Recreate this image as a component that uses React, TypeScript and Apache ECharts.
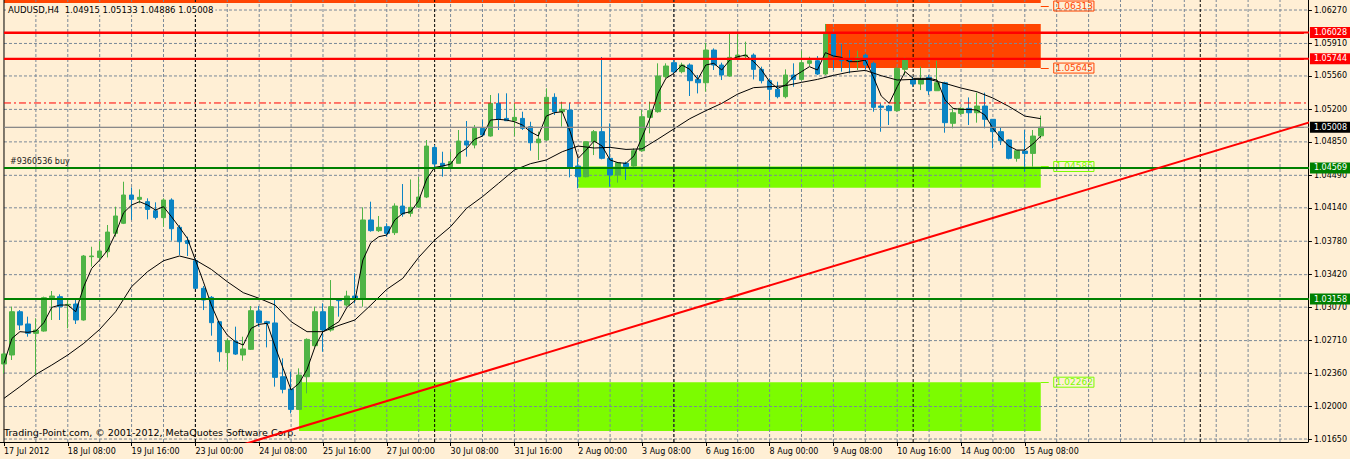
import React, { useEffect, useRef } from 'react';
import * as echarts from 'echarts';

// ---------- data ----------
const timeLabels = [
  '17 Jul 2012', '18 Jul 08:00', '19 Jul 16:00', '23 Jul 00:00', '24 Jul 08:00', '25 Jul 16:00',
  '27 Jul 00:00', '30 Jul 08:00', '31 Jul 16:00', '2 Aug 00:00', '3 Aug 08:00', '6 Aug 16:00',
  '8 Aug 00:00', '9 Aug 08:00', '10 Aug 16:00', '14 Aug 00:00', '15 Aug 08:00',
];
const SLOT_COUNT = 164; // H4 bar slots shown (131 bars + chart shift)
const LABEL_EVERY = 8;
const GRID_EVERY = 4;

const opens = [
  1.02458, 1.02555, 1.03021, 1.02889, 1.02788, 1.02813, 1.03172, 1.03183, 1.03093, 1.03104,
  1.02932, 1.03614, 1.03606, 1.03667, 1.03865, 1.03973, 1.04278, 1.04231, 1.04206, 1.04109,
  1.04034, 1.04224, 1.03930, 1.03786, 1.03571, 1.03273, 1.03176, 1.02914, 1.02580, 1.02705,
  1.02555, 1.02616, 1.03029, 1.02914, 1.02900, 1.02321, 1.02188, 1.01969, 1.02321, 1.02655,
  1.03021, 1.02824, 1.03154, 1.03093, 1.03190, 1.03165, 1.04009, 1.03894, 1.03937, 1.03872,
  1.04159, 1.04080, 1.04148, 1.04256, 1.04790, 1.04619, 1.04583, 1.04619, 1.04859, 1.04816,
  1.04996, 1.04913, 1.05265, 1.05103, 1.05078, 1.05103, 1.05014, 1.04841, 1.04870, 1.05330,
  1.05175, 1.05193, 1.04590, 1.04475, 1.04852, 1.04960, 1.04673, 1.04493, 1.04619, 1.04590,
  1.04755, 1.05114, 1.05175, 1.05552, 1.05703, 1.05606, 1.05678, 1.05523, 1.05487, 1.05839,
  1.05678, 1.05559, 1.05760, 1.05774, 1.05785, 1.05631, 1.05509, 1.05416, 1.05337, 1.05570,
  1.05523, 1.05696, 1.05724, 1.05581, 1.06012, 1.05739, 1.05739, 1.05724, 1.05785, 1.05696,
  1.05236, 1.05236, 1.05186, 1.05631, 1.05523, 1.05473, 1.05545, 1.05401, 1.05487, 1.05050,
  1.05157, 1.05211, 1.05164, 1.05236, 1.05093, 1.04960, 1.04870, 1.04673, 1.04751, 1.04726,
  1.04915,
];
const highs = [
  1.02580, 1.03075, 1.03039, 1.02968, 1.02950, 1.03183, 1.03244, 1.03208, 1.03147, 1.03147,
  1.03632, 1.03721, 1.03782, 1.03955, 1.04152, 1.04421, 1.04360, 1.04339, 1.04242, 1.04199,
  1.04242, 1.04242, 1.03955, 1.03829, 1.03596, 1.03298, 1.03190, 1.02914, 1.02734, 1.02860,
  1.02752, 1.03082, 1.03082, 1.02924, 1.03165, 1.02519, 1.02375, 1.02411, 1.02734, 1.03075,
  1.03111, 1.03362, 1.03165, 1.03247, 1.03434, 1.04145, 1.04206, 1.04052, 1.03973, 1.04188,
  1.04396, 1.04446, 1.04472, 1.04870, 1.04816, 1.04744, 1.04744, 1.04978, 1.05075, 1.05032,
  1.05085, 1.05355, 1.05373, 1.05373, 1.05265, 1.05175, 1.05067, 1.04960, 1.05426, 1.05373,
  1.05283, 1.05272, 1.04673, 1.04852, 1.04978, 1.05764, 1.05049, 1.04626, 1.04637, 1.04780,
  1.05193, 1.05283, 1.05696, 1.05696, 1.05750, 1.05703, 1.05696, 1.05570, 1.05918, 1.05857,
  1.05703, 1.06012, 1.06026, 1.05929, 1.05803, 1.05660, 1.05534, 1.05498, 1.05631, 1.05696,
  1.05832, 1.05767, 1.05774, 1.06120, 1.06020, 1.05904, 1.05839, 1.05832, 1.05803, 1.05714,
  1.05265, 1.05247, 1.05652, 1.05760, 1.05552, 1.05660, 1.05570, 1.05724, 1.05498, 1.05211,
  1.05222, 1.05329, 1.05380, 1.05380, 1.05093, 1.05006, 1.04877, 1.04755, 1.04978, 1.04978,
  1.05133,
];
const lows = [
  1.02357, 1.02501, 1.02824, 1.02752, 1.02339, 1.02806, 1.02932, 1.02932, 1.02842, 1.02889,
  1.02925, 1.03506, 1.03585, 1.03606, 1.03829, 1.03965, 1.04009, 1.04188, 1.04016, 1.04016,
  1.03937, 1.03786, 1.03632, 1.03621, 1.03265, 1.03039, 1.02763, 1.02483, 1.02393, 1.02555,
  1.02494, 1.02609, 1.02860, 1.02637, 1.02214, 1.02142, 1.01926, 1.01962, 1.02142, 1.02644,
  1.02590, 1.02806, 1.02968, 1.03075, 1.03111, 1.03075, 1.03883, 1.03880, 1.03829, 1.03847,
  1.04044, 1.04044, 1.04138, 1.04245, 1.04565, 1.04475, 1.04565, 1.04619, 1.04691, 1.04780,
  1.04906, 1.04906, 1.04978, 1.05078, 1.04913, 1.04978, 1.04755, 1.04655, 1.04863, 1.05140,
  1.05014, 1.04468, 1.04350, 1.04468, 1.04708, 1.04662, 1.04367, 1.04411, 1.04439, 1.04583,
  1.04744, 1.04942, 1.05164, 1.05534, 1.05588, 1.05588, 1.05344, 1.05372, 1.05391, 1.05624,
  1.05516, 1.05552, 1.05749, 1.05749, 1.05523, 1.05480, 1.05300, 1.05319, 1.05319, 1.05444,
  1.05509, 1.05667, 1.05570, 1.05570, 1.05624, 1.05606, 1.05588, 1.05624, 1.05631, 1.05175,
  1.04959, 1.05032, 1.05175, 1.05570, 1.05444, 1.05408, 1.05355, 1.05401, 1.04949, 1.04996,
  1.05140, 1.05032, 1.05057, 1.04996, 1.04780, 1.04816, 1.04662, 1.04637, 1.04529, 1.04583,
  1.04886,
];
const closes = [
  1.02566, 1.03021, 1.02878, 1.02788, 1.02824, 1.03172, 1.03190, 1.03075, 1.03100, 1.02932,
  1.03621, 1.03621, 1.03675, 1.03879, 1.04052, 1.04278, 1.04231, 1.04253, 1.04123, 1.04037,
  1.04224, 1.03915, 1.03775, 1.03757, 1.03273, 1.03147, 1.02903, 1.02590, 1.02709, 1.02565,
  1.02620, 1.03032, 1.02903, 1.02896, 1.02314, 1.02185, 1.01969, 1.02339, 1.02723, 1.03021,
  1.02824, 1.03075, 1.03140, 1.03190, 1.03165, 1.04009, 1.03894, 1.03930, 1.03865, 1.04159,
  1.04073, 1.04145, 1.04256, 1.04805, 1.04612, 1.04590, 1.04637, 1.04859, 1.04816, 1.04996,
  1.04924, 1.05265, 1.05093, 1.05078, 1.05114, 1.04996, 1.04841, 1.04880, 1.05330, 1.05175,
  1.05200, 1.04576, 1.04475, 1.04852, 1.04960, 1.04673, 1.04493, 1.04626, 1.04583, 1.04755,
  1.05121, 1.05186, 1.05559, 1.05667, 1.05606, 1.05678, 1.05509, 1.05487, 1.05839, 1.05678,
  1.05570, 1.05760, 1.05785, 1.05785, 1.05631, 1.05509, 1.05416, 1.05337, 1.05570, 1.05523,
  1.05703, 1.05724, 1.05581, 1.06012, 1.05775, 1.05724, 1.05714, 1.05757, 1.05678, 1.05222,
  1.05222, 1.05186, 1.05642, 1.05731, 1.05473, 1.05523, 1.05401, 1.05487, 1.05057, 1.05164,
  1.05211, 1.05164, 1.05236, 1.05093, 1.04960, 1.04863, 1.04673, 1.04755, 1.04726, 1.04913,
  1.05008,
];

const fastMA = [
  1.02465, 1.02734, 1.02806, 1.02799, 1.02813, 1.02903, 1.03068, 1.03093, 1.03093, 1.03021,
  1.03291, 1.03488, 1.03578, 1.03685, 1.03865, 1.04087, 1.04170, 1.04206, 1.04170, 1.04116,
  1.04152, 1.04044, 1.03930, 1.03811, 1.03578, 1.03344, 1.03093, 1.02896, 1.02770, 1.02698,
  1.02662, 1.02842, 1.02885, 1.02896, 1.02644, 1.02411, 1.02178, 1.02250, 1.02400, 1.02644,
  1.02806, 1.02860, 1.02914, 1.03068, 1.03140, 1.03578, 1.03764, 1.03829, 1.03847, 1.04009,
  1.04080, 1.04098, 1.04217, 1.04450, 1.04576, 1.04590, 1.04611, 1.04726, 1.04780, 1.04877,
  1.04913, 1.05085, 1.05093, 1.05085, 1.05067, 1.05032, 1.04960, 1.04913, 1.05128, 1.05164,
  1.05175, 1.04960, 1.04673, 1.04762, 1.04859, 1.04805, 1.04655, 1.04626, 1.04619, 1.04700,
  1.04900, 1.05103, 1.05373, 1.05534, 1.05588, 1.05678, 1.05631, 1.05523, 1.05678, 1.05696,
  1.05624, 1.05731, 1.05767, 1.05785, 1.05714, 1.05624, 1.05498, 1.05426, 1.05462, 1.05552,
  1.05606, 1.05660, 1.05624, 1.05811, 1.05775, 1.05760, 1.05714, 1.05714, 1.05731, 1.05552,
  1.05344, 1.05265, 1.05444, 1.05606, 1.05534, 1.05534, 1.05534, 1.05516, 1.05301, 1.05211,
  1.05200, 1.05200, 1.05193, 1.05139, 1.04996, 1.04888, 1.04805, 1.04762, 1.04762, 1.04827,
  1.04913,
];

const slowMA = [
  [0, 1.02088], [2, 1.02214], [4, 1.02346], [6, 1.02447], [8, 1.02555], [10, 1.02680],
  [12, 1.02831], [14, 1.03021], [16, 1.03291], [18, 1.03452], [20, 1.03570], [22, 1.03621],
  [24, 1.03578], [26, 1.03477], [28, 1.03344], [30, 1.03226], [32, 1.03165], [34, 1.03093],
  [36, 1.02914], [38, 1.02806], [40, 1.02806], [42, 1.02874], [44, 1.02932], [46, 1.03093],
  [48, 1.03262], [50, 1.03380], [52, 1.03606], [54, 1.03793], [56, 1.03937], [58, 1.04134],
  [60, 1.04260], [62, 1.04403], [64, 1.04547], [66, 1.04615], [68, 1.04655], [70, 1.04744],
  [72, 1.04805], [74, 1.04784], [76, 1.04791], [78, 1.04769], [80, 1.04775], [82, 1.04880],
  [84, 1.04990], [86, 1.05100], [88, 1.05186], [90, 1.05265], [92, 1.05365], [94, 1.05434],
  [96, 1.05444], [98, 1.05455], [100, 1.05491], [102, 1.05523], [104, 1.05566], [106, 1.05602],
  [108, 1.05620], [110, 1.05563], [112, 1.05516], [114, 1.05523], [116, 1.05523], [118, 1.05480],
  [120, 1.05430], [122, 1.05390], [124, 1.05322], [126, 1.05232], [128, 1.05128], [130, 1.05100],
];

const priceTicks = [
  1.0627, 1.0591, 1.0556, 1.052, 1.0485, 1.0449, 1.0414, 1.0378, 1.0342, 1.0307, 1.0271,
  1.0236, 1.02, 1.0165,
];
const Y_MIN = 1.01618;
const Y_MAX = 1.06378;

const weekSeparators = [24, 54, 84, 114, 150];
const redLevels = [1.06028, 1.05744];
const greenLevels = [1.04569, 1.03158];
const bidLevel = 1.05008;
const takeProfitLevel = 1.05269;
const orderLevel = 1.04569;
const orderText = '#9360536 buy';

// zones: [fromBar, topPrice, toBar, bottomPrice]
const orangeZones = [
  [103, 1.0612, 130, 1.05645],
  [0, 1.0640, 130, 1.06346],
];
const greenZones = [
  [72, 1.04585, 130, 1.04357],
  [37, 1.02262, 130, 1.01736],
];
const orangeZoneLabels = [1.06313, 1.05645];
const greenZoneLabels = [1.04585, 1.02262];
const zoneLabelBar = 130;

const trendLine = [
  [30, 1.01592],
  [164, 1.05068],
];

const titleText = 'AUDUSD,H4  1.04915 1.05133 1.04886 1.05008';
const copyrightText = 'Trading-Point.com, © 2001-2012, MetaQuotes Software Corp.';

// ---------- styles ----------
const BG = '#FFEFD5';
const GRID = '#7A8898';
const BULL = '#4FB446';
const BEAR = '#0B84C4';
const FONT = 'DejaVu Sans';

export default function App() {
  const ref = useRef<HTMLDivElement>(null);

  useEffect(() => {
    document.body.style.margin = '0';
    const chart = echarts.init(ref.current!, null, { renderer: 'svg' });

    const slots = Array.from({ length: SLOT_COUNT }, (_, i) => String(i));
    const lastSlot = SLOT_COUNT - 1;
    const beyond = SLOT_COUNT; // lines run past the last slot and are clipped at the axis
    const isLabelSlot = (i: number) => i % LABEL_EVERY === 0 && i / LABEL_EVERY < timeLabels.length;
    const gridCols = slots.map((_, i) => i).filter((i) => i % GRID_EVERY === 0 && i > 0);

    // horizontal full-width lines as clipped line series
    const hSeries = (name: string, values: number[], lineStyle: any, z: number) => ({
      name,
      type: 'line',
      z,
      silent: true,
      clip: true,
      symbol: 'none',
      connectNulls: false,
      lineStyle,
      data: values.flatMap((v, k) => [
        ...(k > 0 ? [[0, '-']] : []),
        [0, v],
        [beyond, v],
      ]),
    });

    // vertical full-height lines as line series
    const vSeries = (name: string, cols: number[], lineStyle: any, z: number) => ({
      name,
      type: 'line',
      z,
      silent: true,
      clip: true,
      symbol: 'none',
      connectNulls: false,
      lineStyle,
      data: cols.flatMap((x, k) => [
        ...(k > 0 ? [[x, '-']] : []),
        [x, Y_MIN],
        [x, Y_MAX],
      ]),
    });

    const tagItem = (value: number, bg: string, lineStyle: any) => [
      {
        coord: [0, value],
        lineStyle,
        label: {
          show: true,
          position: 'end',
          distance: 6,
          formatter: value.toFixed(5),
          color: '#fff',
          backgroundColor: bg,
          padding: [2, 3, 1, 4],
          fontSize: 8,
          fontFamily: FONT,
        },
      },
      { coord: [lastSlot, value] },
    ];

    const zoneLabelLines = (values: number[], color: string) =>
      values.map((v) => [
        {
          coord: [zoneLabelBar, v],
          lineStyle: { color, width: 1, type: 'solid' },
          label: {
            show: true,
            position: 'end',
            distance: 5,
            formatter: v.toFixed(5),
            color,
            borderColor: color,
            borderWidth: 1,
            padding: [1, 1, 0, 2],
            fontSize: 9,
            fontFamily: FONT,
          },
        },
        { coord: [zoneLabelBar + 1, v] },
      ]);

    const gridStyle = { color: GRID, width: 1, type: [3, 2] };
    const redStyle = { color: '#FF0000', width: 2, type: 'solid' };
    const greenStyle = { color: '#008000', width: 2, type: 'solid' };
    const bidStyle = { color: '#8A8A8A', width: 1, type: 'solid' };

    const option: any = {
      animation: false,
      backgroundColor: BG,
      textStyle: { fontFamily: FONT },
      title: [
        {
          text: titleText,
          left: 6,
          top: 4,
          padding: [1, 2],
          backgroundColor: BG,
          textStyle: { fontSize: 8.5, fontWeight: 'normal', color: '#000', fontFamily: FONT },
          z: 8,
        },
        {
          text: copyrightText,
          left: 4,
          top: 427,
          padding: 0,
          textStyle: { fontSize: 9.5, fontWeight: 'normal', color: '#000', fontFamily: FONT },
          z: 1,
        },
      ],
      grid: {
        left: -1,
        right: 38,
        top: 0,
        bottom: 17,
        show: false,
      },
      xAxis: {
        type: 'category',
        data: slots,
        boundaryGap: true,
        axisLine: { show: true, lineStyle: { color: '#000', width: 1 } },
        axisTick: {
          show: true,
          alignWithLabel: true,
          interval: (i: number) => isLabelSlot(i),
          length: 4,
          lineStyle: { color: '#000' },
        },
        axisLabel: {
          interval: (i: number) => isLabelSlot(i),
          formatter: (_v: string, i: number) => (isLabelSlot(i) ? timeLabels[i / LABEL_EVERY] : ''),
          align: 'left',
          margin: 5,
          fontSize: 8,
          color: '#000',
          fontFamily: FONT,
        },
        splitLine: { show: false },
      },
      yAxis: {
        type: 'value',
        position: 'right',
        min: Y_MIN,
        max: Y_MAX,
        scale: true,
        axisLine: { show: true, lineStyle: { color: '#000', width: 1 } },
        axisTick: { show: true, customValues: priceTicks, length: 4, lineStyle: { color: '#000' } },
        axisLabel: {
          customValues: priceTicks,
          formatter: (v: number) => v.toFixed(5),
          margin: 6,
          fontSize: 8,
          color: '#000',
          fontFamily: FONT,
        },
        splitLine: { show: false },
      },
      series: [
        {
          name: 'zones',
          type: 'line',
          z: 1,
          data: [],
          silent: true,
          markArea: {
            silent: true,
            z: 1,
            data: [
              ...orangeZones.map(([x1, y1, x2, y2]) => [
                { coord: [x1, y1], itemStyle: { color: '#FF4500' } },
                { coord: [x2, y2] },
              ]),
              ...greenZones.map(([x1, y1, x2, y2]) => [
                { coord: [x1, y1], itemStyle: { color: '#7CFC00' } },
                { coord: [x2, y2] },
              ]),
            ],
          },
        },
        hSeries('grid rows', priceTicks, gridStyle, 2),
        vSeries('grid cols', gridCols, gridStyle, 2),
        vSeries('week separators', weekSeparators, { color: '#000', width: 1, type: [3, 2] }, 2),
        vSeries('left border', [0], { color: '#000', width: 1, type: 'solid' }, 2),
        {
          name: 'AUDUSD',
          type: 'candlestick',
          z: 3,
          barWidth: 5,
          clip: true,
          data: opens.map((o, i) => [o, closes[i], lows[i], highs[i]]),
          itemStyle: {
            color: BULL,
            color0: BEAR,
            borderColor: BULL,
            borderColor0: BEAR,
            borderColorDoji: BULL,
            borderWidth: 1,
          },
        },
        {
          name: 'MA fast',
          type: 'line',
          z: 4,
          symbol: 'none',
          data: fastMA,
          lineStyle: { color: '#000', width: 1 },
        },
        {
          name: 'MA slow',
          type: 'line',
          z: 4,
          symbol: 'none',
          data: slowMA,
          lineStyle: { color: '#000', width: 1 },
        },
        hSeries('take profit', [takeProfitLevel], { color: '#FF0000', width: 1, type: [7, 3, 2, 3] }, 5),
        hSeries('bid', [bidLevel], bidStyle, 5),
        hSeries('red levels', redLevels, redStyle, 5),
        hSeries('green levels', greenLevels, greenStyle, 5),
        {
          name: 'tags',
          type: 'line',
          z: 6,
          data: [],
          silent: true,
          markLine: {
            silent: true,
            symbol: 'none',
            data: [
              tagItem(bidLevel, '#000', bidStyle),
              ...redLevels.map((v) => tagItem(v, '#FF0000', redStyle)),
              ...greenLevels.map((v) => tagItem(v, '#008000', greenStyle)),
              [
                {
                  coord: [0, orderLevel],
                  lineStyle: greenStyle,
                  label: {
                    show: true,
                    position: 'insideStartTop',
                    distance: [6, 2],
                    formatter: orderText,
                    color: '#1a1a1a',
                    fontSize: 8,
                    fontFamily: FONT,
                  },
                },
                { coord: [lastSlot, orderLevel] },
              ],
              ...zoneLabelLines(orangeZoneLabels, '#FF4500'),
              ...zoneLabelLines(greenZoneLabels, '#7CFC00'),
            ],
          },
        },
        {
          name: 'trend',
          type: 'line',
          z: 6,
          symbol: 'none',
          clip: true,
          data: trendLine,
          lineStyle: { color: '#FF0000', width: 2 },
        },
      ],
    };

    chart.setOption(option);
    return () => chart.dispose();
  }, []);

  return <div ref={ref} style={{ width: 1350, height: 459, background: BG }} />;
}
